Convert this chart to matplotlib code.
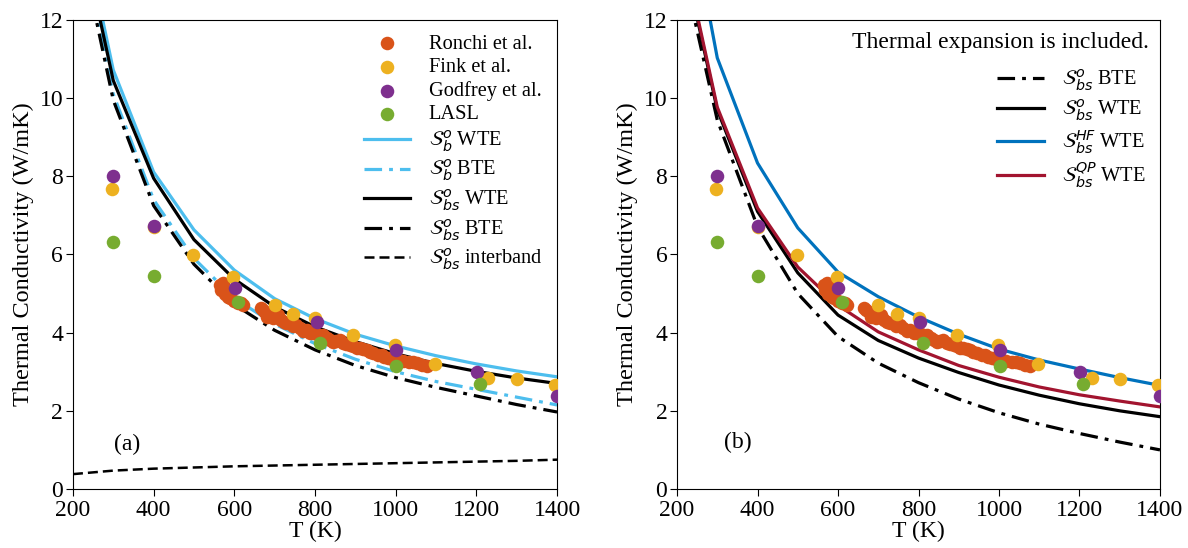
import numpy as np
import matplotlib
matplotlib.use("Agg")
import matplotlib.pyplot as plt

plt.rcParams['font.family'] = ['Liberation Serif', 'DejaVu Serif']
plt.rcParams['mathtext.fontset'] = 'dejavusans'

# temperatures of the computed curves (K)
T = [200, 300, 400, 500, 600, 700, 800, 900, 1000, 1100, 1200, 1300, 1400]

# panel (a)
b_wte  = [15.6, 10.72, 8.11, 6.63, 5.60, 4.87, 4.36, 3.96, 3.66, 3.41, 3.20, 3.02, 2.87]
b_bte  = [15.0, 10.10, 7.40, 5.90, 4.88, 4.22, 3.72, 3.32, 3.00, 2.75, 2.55, 2.35, 2.15]
bs_wte = [15.2, 10.45, 7.95, 6.38, 5.37, 4.66, 4.15, 3.77, 3.46, 3.21, 3.01, 2.84, 2.70]
bs_bte = [14.8, 9.95, 7.25, 5.75, 4.72, 4.06, 3.56, 3.16, 2.85, 2.60, 2.38, 2.16, 1.97]
bs_inter = [0.38, 0.47, 0.52, 0.55, 0.58, 0.60, 0.62, 0.64, 0.66, 0.68, 0.70, 0.72, 0.75]

# panel (b), thermal expansion included
te_bte = [14.0, 9.44, 6.71, 5.00, 3.90, 3.22, 2.72, 2.30, 1.95, 1.66, 1.42, 1.20, 1.00]
te_wte = [14.4, 9.70, 7.10, 5.53, 4.45, 3.80, 3.35, 2.98, 2.66, 2.40, 2.18, 2.00, 1.85]
te_hf  = [16.5, 11.03, 8.34, 6.68, 5.55, 4.92, 4.40, 3.96, 3.58, 3.30, 3.07, 2.85, 2.65]
te_qp  = [14.5, 9.77, 7.19, 5.68, 4.70, 4.02, 3.56, 3.16, 2.86, 2.61, 2.41, 2.25, 2.10]

# experiments
ronchi_T = [565, 568, 572, 576, 580, 585, 590, 600, 610, 617, 622, 665, 670, 676,
            682, 688, 695, 700, 708, 715, 722, 729, 737, 745, 754, 762, 771, 780,
            788, 796, 805, 812, 820, 830, 838, 845, 853, 862, 870, 878, 887, 895,
            903, 911, 920, 928, 936, 945, 957, 965, 972, 982, 992, 1000, 1007,
            1018, 1032, 1042, 1052, 1065, 1077]
ronchi_k = [5.22, 5.10, 5.26, 4.98, 5.01, 4.92, 4.88, 4.82, 4.76, 4.75, 4.72, 4.63,
            4.58, 4.52, 4.41, 4.47, 4.38, 4.42, 4.45, 4.33, 4.28, 4.24, 4.25, 4.18,
            4.20, 4.12, 4.03, 4.06, 4.00, 3.98, 3.96, 3.92, 3.94, 3.86, 3.82, 3.77,
            3.78, 3.81, 3.73, 3.70, 3.68, 3.66, 3.62, 3.60, 3.57, 3.55, 3.51, 3.48,
            3.43, 3.42, 3.38, 3.34, 3.33, 3.30, 3.30, 3.28, 3.26, 3.24, 3.22, 3.18,
            3.15]
fink_T = [298, 400, 497, 597, 700, 746, 800, 895, 998, 1098, 1230, 1301, 1396]
fink_k = [7.68, 6.70, 5.98, 5.43, 4.71, 4.49, 4.37, 3.94, 3.68, 3.20, 2.83, 2.81, 2.66]
godfrey_T = [300, 400, 601, 804, 1002, 1201, 1400]
godfrey_k = [8.00, 6.73, 5.13, 4.28, 3.56, 2.99, 2.38]
lasl_T = [300, 400, 609, 812, 1002, 1208]
lasl_k = [6.33, 5.45, 4.79, 3.73, 3.15, 2.69]

c_or, c_ye, c_pu, c_gr = '#D95319', '#EDB120', '#7E2F8E', '#77AC30'
c_lb, c_bl, c_rd = '#4DBEEE', '#0072BD', '#A2142F'
lw = 2.3
dashdot = (0, (5.5, 2.2, 1.2, 2.2))
S = r'$\mathcal{S}'

fig = plt.figure(figsize=(11.88, 5.48), dpi=100)
ax1 = fig.add_axes([0.0614, 0.1077, 0.4075, 0.8558])
ax2 = fig.add_axes([0.5699, 0.1077, 0.4065, 0.8558])


def scatter_exp(ax):
    ax.scatter(ronchi_T, ronchi_k, s=95, color=c_or, lw=0, label='Ronchi et al.', zorder=3)
    ax.scatter(fink_T, fink_k, s=95, color=c_ye, lw=0, label='Fink et al.', zorder=3)
    ax.scatter(godfrey_T, godfrey_k, s=95, color=c_pu, lw=0, label='Godfrey et al.', zorder=3)
    ax.scatter(lasl_T, lasl_k, s=95, color=c_gr, lw=0, label='LASL', zorder=3)


scatter_exp(ax1)
ax1.plot(T, b_wte, color=c_lb, lw=lw, label=S + r'^o_b$ WTE')
ax1.plot(T, b_bte, color=c_lb, lw=lw, ls=dashdot, label=S + r'^o_b$ BTE')
ax1.plot(T, bs_wte, color='k', lw=lw, label=S + r'^o_{bs}$ WTE')
ax1.plot(T, bs_bte, color='k', lw=lw, ls=dashdot, label=S + r'^o_{bs}$ BTE')
ax1.plot(T, bs_inter, color='k', lw=1.8, ls=(0, (4, 2)), label=S + r'^o_{bs}$ interband')
ax1.legend(loc='upper right', frameon=False, fontsize=14.7, handlelength=2.3,
           labelspacing=0.2, borderaxespad=0.3, handletextpad=0.9)
ax1.text(334, 1.15, '(a)', fontsize=17, ha='center', va='center')

scatter_exp(ax2)
h1, = ax2.plot(T, te_bte, color='k', lw=lw, ls=dashdot, label=S + r'^o_{bs}$ BTE')
h2, = ax2.plot(T, te_wte, color='k', lw=lw, label=S + r'^o_{bs}$ WTE')
h3, = ax2.plot(T, te_hf, color=c_bl, lw=lw, label=S + r'^{HF}_{bs}$ WTE')
h4, = ax2.plot(T, te_qp, color=c_rd, lw=lw, label=S + r'^{QP}_{bs}$ WTE')
ax2.text(0.978, 0.952, 'Thermal expansion is included.', fontsize=17,
         ha='right', va='center', transform=ax2.transAxes)
ax2.legend(handles=[h1, h2, h3, h4], loc='upper right', bbox_to_anchor=(1.0, 0.93),
           frameon=False, fontsize=14.7, handlelength=2.3, labelspacing=0.25,
           borderaxespad=0.3, handletextpad=0.9)
ax2.text(350, 1.2, '(b)', fontsize=17, ha='center', va='center')

for ax in (ax1, ax2):
    ax.set_xlim(200, 1400)
    ax.set_ylim(0, 12)
    ax.set_xticks([200, 400, 600, 800, 1000, 1200, 1400])
    ax.set_yticks([0, 2, 4, 6, 8, 10, 12])
    ax.tick_params(direction='out', labelsize=17, length=5, pad=2)
    ax.tick_params(axis='x', pad=3)
    ax.set_xlabel('T (K)', fontsize=17, labelpad=0)
    ax.set_ylabel('Thermal Conductivity (W/mK)', fontsize=17.5, labelpad=4)

fig.savefig('out.png', dpi=100)
